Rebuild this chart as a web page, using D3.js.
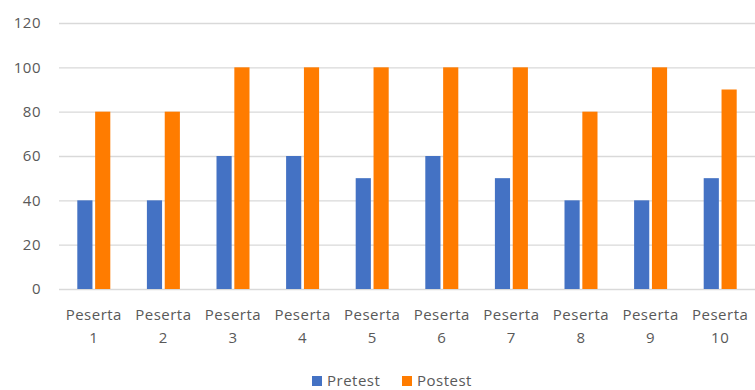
<!DOCTYPE html>
<html><head><meta charset="utf-8">
<script src="https://cdn.jsdelivr.net/npm/d3@7"></script>
<style>body{margin:0;background:#fff;} svg{display:block;}</style>
</head><body>
<svg id="c" width="755" height="390"></svg>
<script>
const categories = ["Peserta 1","Peserta 2","Peserta 3","Peserta 4","Peserta 5","Peserta 6","Peserta 7","Peserta 8","Peserta 9","Peserta 10"];
const seriesNames = ["Pretest","Postest"];
const pretest = [40,40,60,60,50,60,50,40,40,50];
const postest = [80,80,100,100,100,100,100,80,100,90];
const yTicks = [0,20,40,60,80,100,120];
const colors = ["#4472C4","#FF7C00"];

const svg = d3.select("#c");
const font = "'Open Sans', sans-serif";
const fs = "15px", ls = "0.5px";
const x = d3.scaleBand().domain(categories).range([59,755]).padding(0);
const y = d3.scaleLinear().domain([0,120]).range([289,23]);
const xs = d3.scaleBand().domain(seriesNames).range([0,33]).paddingInner(0.15);

// gridlines
const g = svg.append("g").attr("transform","translate(59,0)");
const yAxis = d3.axisLeft(y).tickValues(yTicks).tickSize(-(755-59)).tickPadding(18);
g.call(yAxis);
g.select(".domain").remove();
g.selectAll(".tick line").attr("stroke","#d9d9d9").attr("stroke-width",1.3);
g.selectAll(".tick text").attr("fill","#595959").style("font-size",fs).style("letter-spacing",ls).style("font-family",font);

const data = categories.map((c,i)=>({c, vals:[pretest[i],postest[i]]}));
const grp = svg.append("g");
const cat = grp.selectAll("g").data(data).join("g")
  .attr("transform",d=>`translate(${x(d.c)+x.bandwidth()/2-16.5},0)`);
cat.selectAll("rect").data(d=>d.vals.map((v,j)=>({v,s:seriesNames[j],j}))).join("rect")
  .attr("x",d=>xs(d.s)).attr("width",xs.bandwidth())
  .attr("y",d=>y(d.v)).attr("height",d=>y(0)-y(d.v))
  .attr("fill",d=>colors[d.j]);

// x labels
const xl = svg.append("g");
categories.forEach(c=>{
  const parts = c.split(" ");
  const cx = x(c)+x.bandwidth()/2;
  const t = xl.append("text").attr("text-anchor","middle")
    .attr("fill","#595959").style("font-size",fs).style("letter-spacing",ls).style("font-family",font);
  t.append("tspan").attr("x",cx).attr("y",320).text(parts[0]);
  t.append("tspan").attr("x",cx).attr("y",343).text(parts[1]);
});

// legend
const leg = svg.append("g");
const legX = [312,402];
seriesNames.forEach((s,i)=>{
  leg.append("rect").attr("x",legX[i]).attr("y",376).attr("width",10).attr("height",10).attr("fill",colors[i]);
  leg.append("text").attr("x",legX[i]+15).attr("y",386).text(s)
    .attr("fill","#595959").style("font-size",fs).style("letter-spacing",ls).style("font-family",font);
});
</script>
</body></html>
